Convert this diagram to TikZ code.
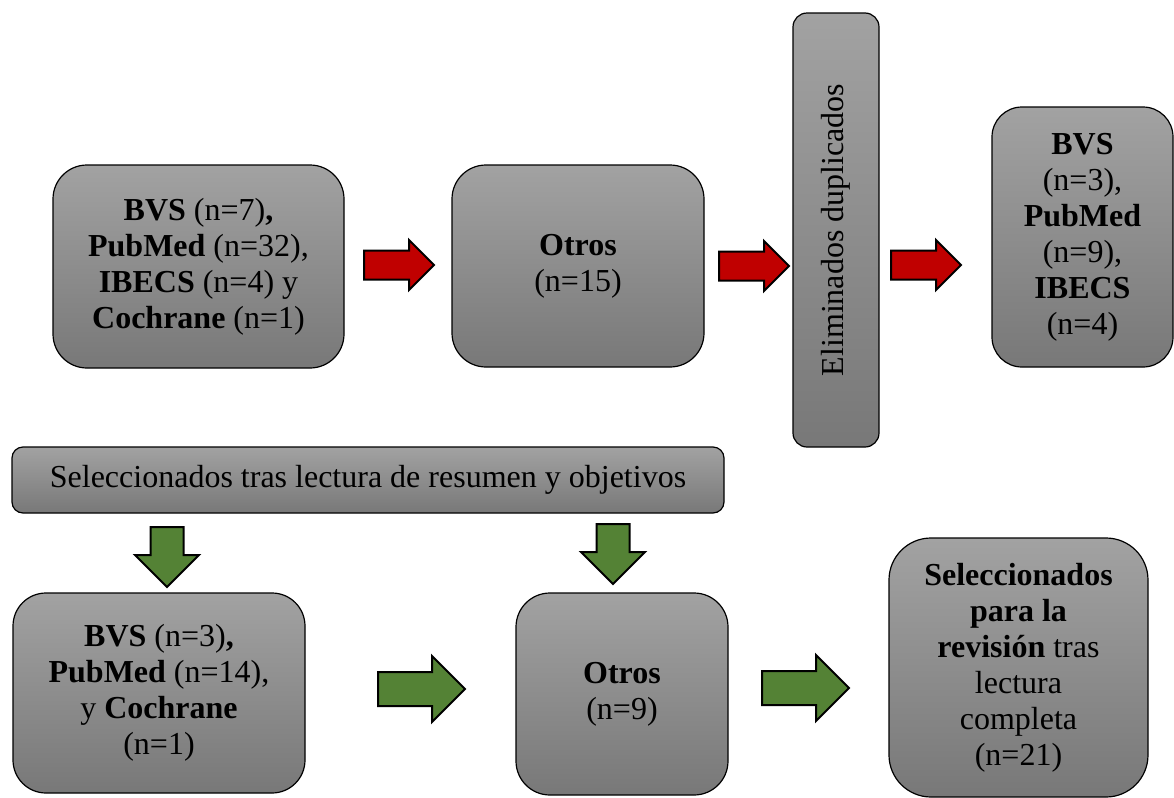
\documentclass[tikz,border=0pt]{standalone}
\usepackage{fontspec}
\setmainfont{Liberation Serif}
\usepackage{graphicx}
\usepackage{tikz}
\usetikzlibrary{shapes.arrows, positioning}
\definecolor{boxtop}{RGB}{162,162,162}
\definecolor{boxbottom}{RGB}{120,120,120}
\definecolor{myred}{RGB}{192,0,0}
\definecolor{mygreen}{RGB}{84,130,53}

\begin{document}
\begin{tikzpicture}[x=0.5pt, y=-0.5pt,
    flow_box/.style={draw=black, line width=0.6pt, top color=boxtop, bottom color=boxbottom, align=center, inner sep=2pt, font=\fontsize{16}{18}\selectfont},
    red_arrow/.style={shape=single arrow, draw=black, line width=1pt, fill=myred, inner xsep=0pt, inner ysep=6.75pt, minimum height=35pt, single arrow head extend=5.25pt, anchor=tail},
    green_arrow/.style={shape=single arrow, draw=black, line width=1pt, fill=mygreen, inner xsep=0pt, inner ysep=8pt, minimum height=43.5pt, single arrow head extend=8pt, anchor=tail},
    green_down/.style={green_arrow, rotate=-90, minimum height=30pt, inner ysep=7.75pt, single arrow head extend=7.75pt}
]
    \useasboundingbox (0,0) rectangle (1174,798);

    % Top row: search results per database
    \node[flow_box, minimum width=145.5pt, minimum height=101.5pt, rounded corners=17pt] (search_db) at (198.5,266.5)
        {\textbf{BVS} (n=7)\textbf{,}\\ \textbf{PubMed} (n=32),\\ \textbf{IBECS} (n=4) y\\ \textbf{Cochrane} (n=1)};
    \node[flow_box, minimum width=126pt, minimum height=101pt, rounded corners=17pt] (search_other) at (578,266)
        {\textbf{Otros}\\ (n=15)};
    \node[flow_box, minimum width=43pt, minimum height=217pt, rounded corners=7pt] (dup_removed) at (836,230)
        {\rotatebox{90}{Eliminados duplicados}};
    \node[flow_box, minimum width=90.5pt, minimum height=130pt, rounded corners=15pt] (after_dup) at (1082.5,237)
        {\textbf{BVS}\\ (n=3),\\ \textbf{PubMed}\\ (n=9),\\ \textbf{IBECS}\\ (n=4)};

    % Red block arrows between top boxes
    \node[red_arrow] (red_a) at (363,265) {};
    \node[red_arrow] (red_b) at (718,266) {};
    \node[red_arrow] (red_c) at (890,265) {};

    % Screening banner
    \node[flow_box, minimum width=356pt, minimum height=33pt, rounded corners=5.5pt] (screening) at (368,480)
        {Seleccionados tras lectura de resumen y objetivos};

    % Green arrows down from the banner
    \node[green_down] (down_a) at (167,526) {};
    \node[green_down] (down_b) at (613,523) {};

    % Bottom row: selected studies
    \node[flow_box, minimum width=146pt, minimum height=100pt, rounded corners=16.5pt] (sel_db) at (159,693)
        {\textbf{BVS} (n=3)\textbf{,}\\ \textbf{PubMed} (n=14),\\ y \textbf{Cochrane}\\ (n=1)};
    \node[flow_box, minimum width=106pt, minimum height=101pt, rounded corners=17pt] (sel_other) at (622,694)
        {\textbf{Otros}\\ (n=9)};
    \node[flow_box, minimum width=129.5pt, minimum height=129.5pt, rounded corners=21pt] (final) at (1018.5,667.5)
        {\textbf{Seleccionados}\\ \textbf{para la}\\ \textbf{revisión} tras\\ lectura\\ completa\\ (n=21)};

    % Green block arrows along the bottom row
    \node[green_arrow] (green_a) at (377,689) {};
    \node[green_arrow] (green_b) at (761,688) {};

\end{tikzpicture}
\end{document}
